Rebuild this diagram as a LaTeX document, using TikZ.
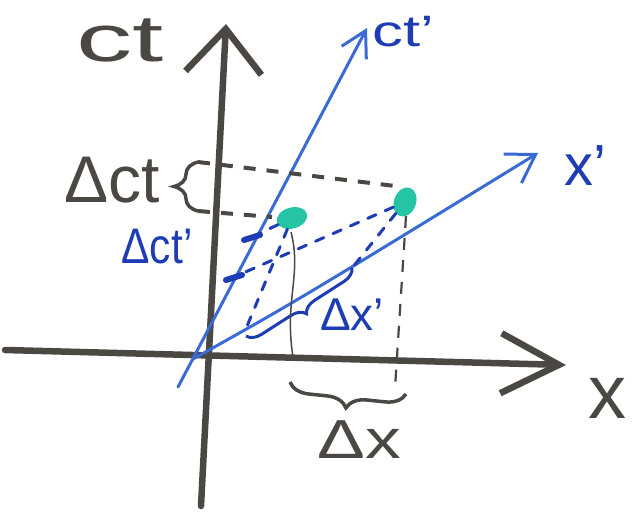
\documentclass[tikz,border=0pt]{standalone}
\usepackage{fontspec}
\setmainfont{Liberation Sans}
\usetikzlibrary{arrows.meta,positioning,decorations.pathreplacing,shapes.geometric}
\definecolor{marker}{HTML}{4B4743}
\definecolor{boost}{HTML}{3A6BD5}
\definecolor{ink}{HTML}{1E3CB4}
\definecolor{event}{HTML}{25C4A5}
\tikzset{
  restaxis/.style={line width=6.5pt, draw=marker, line cap=round, line join=round},
  boostaxis/.style={line width=3pt, draw=boost, line cap=round, line join=round},
  restlabel/.style={text=marker, inner sep=0pt, font=\fontsize{#1}{#1}\selectfont},
  restlabel/.default=66pt,
  boostlabel/.style={text=ink, inner sep=0pt, font=\fontsize{#1}{#1}\selectfont},
  boostlabel/.default=46pt,
  timedash/.style={line width=4pt, draw=marker, dash pattern=on 12pt off 11pt},
  spacedash/.style={line width=2.2pt, draw=marker, dash pattern=on 12pt off 10pt},
  blueproj/.style={line width=3pt, draw=ink, dash pattern=on 9pt off 10pt, line cap=round},
  bluemark/.style={line width=6pt, draw=ink, line cap=round},
  eventdot/.style={ellipse, fill=event, inner sep=0pt},
  bracket/.style={decorate, decoration={brace, amplitude=#1}, line width=3.5pt, draw=marker},
  bracket/.default=16pt
}
\begin{document}
\begin{tikzpicture}[x=1pt, y=-1pt]
        \useasboundingbox (0,0) rectangle (639,511);
        \coordinate (ctfoot) at (201,506);
        \coordinate (cthead) at (226,24);
        \coordinate (xfoot) at (5,350);
        \coordinate (xhead) at (566,365);
        \coordinate (orig) at (193,359);
        \coordinate (ctpfoot) at (178,387);
        \coordinate (ctphead) at (367,28);
        \coordinate (xphead) at (538,153);
        \draw[restaxis, -{Straight Barb[length=44pt, width=76pt]}] (ctfoot) -- (cthead);
        \draw[restaxis, -{Straight Barb[length=58pt, width=60pt]}] (xfoot) -- (xhead);
        \draw[boostaxis, -{Straight Barb[length=25pt, width=28pt]}] (ctpfoot) -- (ctphead);
        \draw[boostaxis, -{Straight Barb[length=27pt, width=34pt]}] (orig) .. controls (295,302) .. (xphead);
        \node[restlabel] (ctlab) at (120,40) {\scalebox{1.7}[1]{ct}};
        \node[restlabel=76pt] (xlab) at (607,398) {x};
        \node[boostlabel=44pt] (ctplab) at (403,32) {\scalebox{1.4}[1]{ct’}};
        \node[boostlabel=58pt] (xplab) at (585,166) {x’};
        \node[eventdot, minimum width=31pt, minimum height=21pt, rotate=15] (evA) at (292,218) {};
        \node[eventdot, minimum width=22pt, minimum height=30pt, rotate=-20] (evB) at (405,202) {};
        \coordinate (dtA) at (198,162);
        \coordinate (dtB) at (395,186);
        \coordinate (dtC) at (198,211);
        \coordinate (dtD) at (272,217);
        \draw[timedash] (dtA) -- (dtB);
        \draw[timedash] (dtC) -- (dtD);
        \draw[bracket=24pt] (dtC) -- (dtA);
        \node[restlabel, anchor=east] (dctlab) at (160,180) {Δct};
        \coordinate (tickA) at (252,237);
        \coordinate (tickB) at (234,277);
        \draw[bluemark] (tickA) ++(-8,3) -- ++(16,-5);
        \draw[bluemark] (tickB) ++(-8,3) -- ++(16,-5);
        \draw[blueproj] (evA) -- (tickA);
        \draw[blueproj] (evB) -- (tickB);
        \coordinate (footA) at (245,331);
        \coordinate (footB) at (352,268);
        \draw[blueproj] (evA) -- (footA);
        \draw[blueproj] (evB) -- (footB);
        \node[boostlabel=50pt] (dctplab) at (157,247) {\scalebox{0.85}[1]{Δct’}};
        \draw[bracket=14pt, draw=ink, line width=3pt, decoration={mirror}] (footA) ++(1,5) -- (footB);
        \node[boostlabel] (dxplab) at (352,315) {Δx’};
        \coordinate (dropA) at (291,232);
        \coordinate (dropB) at (293,357);
        \coordinate (dropC) at (406,216);
        \coordinate (dropD) at (395,388);
        \draw[line width=1.5pt, draw=marker] (dropA) .. controls (302,275) and (284,300) .. (dropB);
        \draw[spacedash] (dropC) -- (dropD);
        \draw[bracket=20pt, decoration={mirror}] (290,382) -- (406,394);
        \node[restlabel=55pt] (dxlab) at (359,440) {\scalebox{1.3}[1]{Δx}};
\end{tikzpicture}
\end{document}
